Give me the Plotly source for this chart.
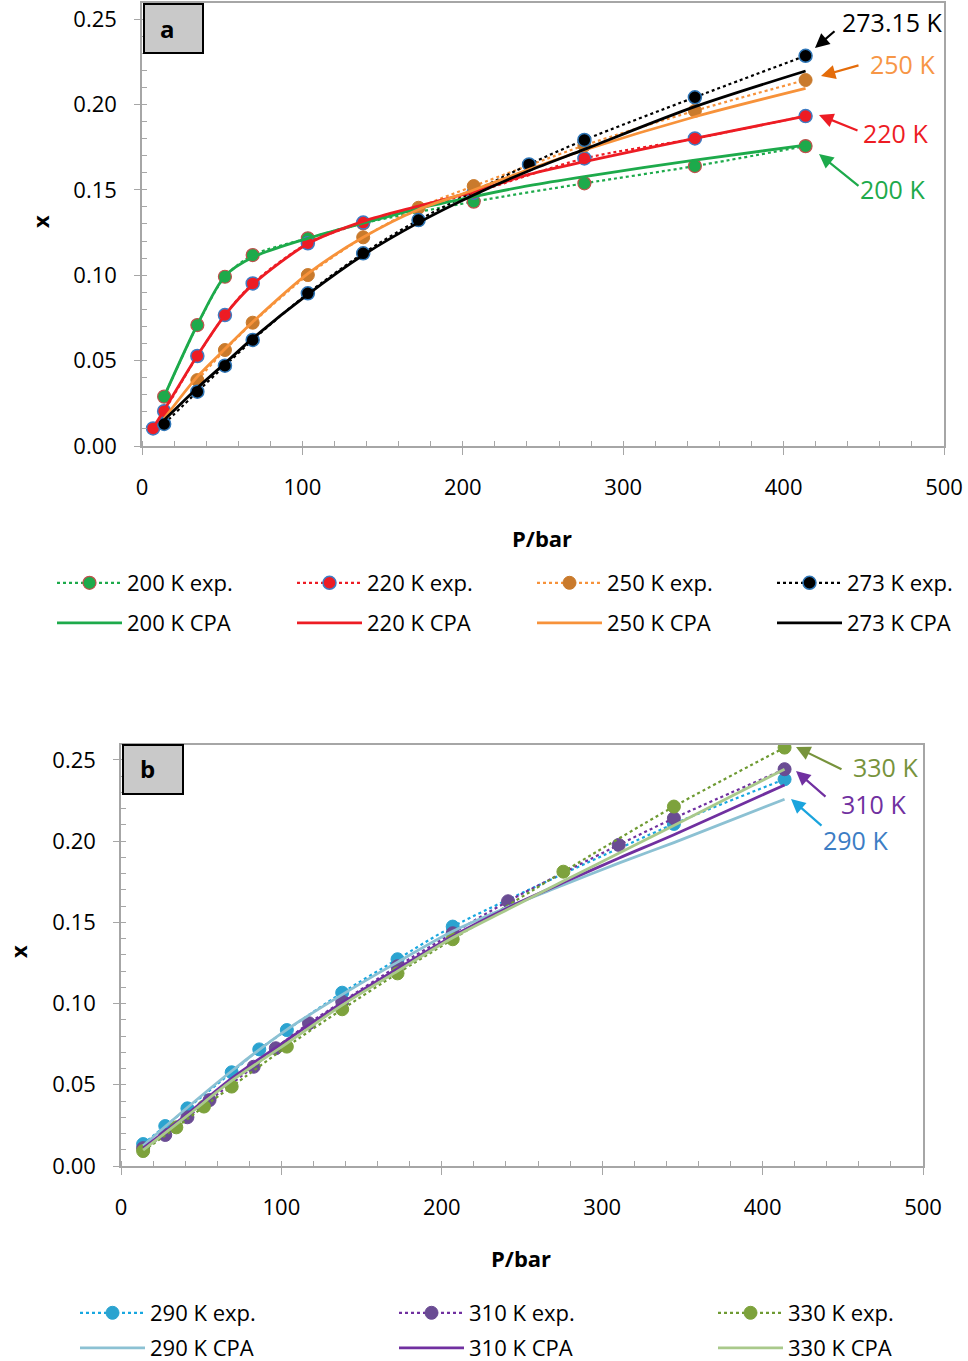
import plotly.graph_objects as go

# ---------------- Panel a data ----------------
P_200_exp = [13.8, 34.5, 51.7, 69.0, 103.4, 137.9, 206.8, 275.8, 344.7, 413.7]
x_200_exp = [0.0289, 0.0708, 0.0991, 0.1118, 0.1216, 0.1304, 0.1431, 0.1538, 0.1639, 0.1756]
P_220_exp = [6.9, 13.8, 34.5, 51.7, 69.0, 103.4, 137.9, 206.8, 275.8, 344.7, 413.7]
x_220_exp = [0.0103, 0.0204, 0.0527, 0.0767, 0.0952, 0.1187, 0.1308, 0.1483, 0.1684, 0.1801, 0.1932]
P_250_exp = [34.5, 51.7, 69.0, 103.4, 137.9, 172.4, 206.8, 275.8, 344.7, 413.7]
x_250_exp = [0.0386, 0.0562, 0.0722, 0.1001, 0.1222, 0.1395, 0.1522, 0.1760, 0.1963, 0.2143]
P_273_exp = [13.8, 34.5, 51.7, 69.0, 103.4, 137.9, 172.4, 241.3, 275.8, 344.7, 413.7]
x_273_exp = [0.0129, 0.0318, 0.0470, 0.0621, 0.0894, 0.1128, 0.1323, 0.1649, 0.1792, 0.2042, 0.2285]

P_200_cpa = [13.8, 34.5, 51.7, 69.0, 103.4, 137.9, 172.4, 206.8, 241.3, 275.8, 344.7, 413.7]
x_200_cpa = [0.0290, 0.0710, 0.0995, 0.1105, 0.1216, 0.1305, 0.1390, 0.1460, 0.1525, 0.1578, 0.1674, 0.1762]
P_220_cpa = [6.9, 13.8, 34.5, 51.7, 69.0, 103.4, 137.9, 172.4, 206.8, 241.3, 275.8, 344.7, 413.7]
x_220_cpa = [0.0105, 0.0210, 0.0530, 0.0767, 0.0945, 0.1184, 0.1315, 0.1405, 0.1490, 0.1590, 0.1665, 0.1801, 0.1932]
P_250_cpa = [13.8, 34.5, 51.7, 69.0, 103.4, 137.9, 172.4, 206.8, 241.3, 275.8, 344.7, 413.7]
x_250_cpa = [0.0160, 0.0406, 0.0568, 0.0726, 0.1009, 0.1222, 0.1385, 0.1499, 0.1620, 0.1733, 0.1928, 0.2094]
P_273_cpa = [13.8, 34.5, 51.7, 69.0, 103.4, 137.9, 172.4, 206.8, 241.3, 275.8, 344.7, 413.7]
x_273_cpa = [0.0152, 0.0340, 0.0484, 0.0630, 0.0888, 0.1118, 0.1308, 0.1470, 0.1612, 0.1737, 0.1987, 0.2196]

# ---------------- Panel b data ----------------
P_290_exp = [13.8, 27.6, 41.4, 69.0, 86.2, 103.4, 137.9, 172.4, 206.8, 344.7, 413.7]
x_290_exp = [0.0135, 0.0246, 0.0355, 0.0577, 0.0718, 0.0837, 0.1067, 0.1273, 0.1474, 0.2106, 0.2381]
P_310_exp = [13.8, 27.6, 41.4, 55.2, 82.7, 96.5, 117.2, 137.9, 172.4, 206.8, 241.3, 310.3, 344.7, 413.7]
x_310_exp = [0.0110, 0.0191, 0.0300, 0.0406, 0.0611, 0.0725, 0.0879, 0.1012, 0.1230, 0.1433, 0.1630, 0.1977, 0.2141, 0.2443]
P_330_exp = [13.8, 34.5, 51.7, 69.0, 103.4, 137.9, 172.4, 206.8, 275.8, 344.7, 413.7]
x_330_exp = [0.0092, 0.0238, 0.0366, 0.0489, 0.0735, 0.0965, 0.1186, 0.1396, 0.1812, 0.2213, 0.2576]

P_b_cpa = [13.8, 41.4, 69.0, 103.4, 137.9, 172.4, 206.8, 241.3, 275.8, 310.3, 344.7, 413.7]
x_290_cpa = [0.0125, 0.0360, 0.0585, 0.0840, 0.1055, 0.1255, 0.1445, 0.1595, 0.1730, 0.1865, 0.1991, 0.2258]
x_310_cpa = [0.0110, 0.0320, 0.0540, 0.0775, 0.1005, 0.1215, 0.1415, 0.1590, 0.1745, 0.1895, 0.2040, 0.2346]
x_330_cpa = [0.0098, 0.0310, 0.0525, 0.0755, 0.0990, 0.1200, 0.1405, 0.1580, 0.1755, 0.1925, 0.2096, 0.2443]

x_ticks = [0, 100, 200, 300, 400, 500]
y_ticks = [0.00, 0.05, 0.10, 0.15, 0.20, 0.25]

W, H = 968, 1361
FONT = "Open Sans, Liberation Sans, sans-serif"


def px(x):
    return x / W


def py(y):
    return 1 - y / H


fig = go.Figure()


def exp_trace(P, X, name, line_color, fill, edge, edge_w, xa, ya, legend):
    fig.add_trace(go.Scatter(
        x=P, y=X, name=name, mode="lines+markers",
        line=dict(color=line_color, width=2.2, dash="dot", shape="spline", smoothing=0.8),
        marker=dict(size=13, color=fill, line=dict(color=edge, width=edge_w)),
        xaxis=xa, yaxis=ya, legend=legend))


def cpa_trace(P, X, name, color, xa, ya, legend):
    fig.add_trace(go.Scatter(
        x=P, y=X, name=name, mode="lines",
        line=dict(color=color, width=2.8, shape="spline", smoothing=0.8),
        xaxis=xa, yaxis=ya, legend=legend))


# panel a
GREEN, RED, ORANGE, BLACK = "#1DAA4B", "#ED1C24", "#F7923A", "#000000"
exp_trace(P_200_exp, x_200_exp, "200 K exp.", GREEN, GREEN, "#C0504D", 1.2, "x", "y", "legend")
exp_trace(P_220_exp, x_220_exp, "220 K exp.", RED, RED, "#3E7CC4", 1.5, "x", "y", "legend")
exp_trace(P_250_exp, x_250_exp, "250 K exp.", ORANGE, "#C97A2C", "#C97A2C", 1, "x", "y", "legend")
exp_trace(P_273_exp, x_273_exp, "273 K exp.", BLACK, BLACK, "#2E75B6", 1.5, "x", "y", "legend")
cpa_trace(P_200_cpa, x_200_cpa, "200 K CPA", GREEN, "x", "y", "legend2")
cpa_trace(P_220_cpa, x_220_cpa, "220 K CPA", RED, "x", "y", "legend2")
cpa_trace(P_250_cpa, x_250_cpa, "250 K CPA", ORANGE, "x", "y", "legend2")
cpa_trace(P_273_cpa, x_273_cpa, "273 K CPA", BLACK, "x", "y", "legend2")

# panel b
exp_trace(P_290_exp, x_290_exp, "290 K exp.", "#17A7E0", "#2BA3D0", "#2BA3D0", 1, "x2", "y2", "legend3")
exp_trace(P_310_exp, x_310_exp, "310 K exp.", "#7030A0", "#6A4C93", "#6A4C93", 1, "x2", "y2", "legend3")
exp_trace(P_330_exp, x_330_exp, "330 K exp.", "#6E9A32", "#7DA23C", "#7DA23C", 1, "x2", "y2", "legend3")
cpa_trace(P_b_cpa, x_290_cpa, "290 K CPA", "#8CC1D3", "x2", "y2", "legend4")
cpa_trace(P_b_cpa, x_310_cpa, "310 K CPA", "#7030A0", "x2", "y2", "legend4")
cpa_trace(P_b_cpa, x_330_cpa, "330 K CPA", "#A9C98B", "x2", "y2", "legend4")

AXIS_GREY = "#A6A6A6"
tickfont = dict(family=FONT, size=22, color="#000000")


def xaxis_cfg(domain, anchor):
    return dict(domain=domain, anchor=anchor, range=[0, 500], tickvals=x_ticks,
                showline=True, linecolor=AXIS_GREY, linewidth=1.5, mirror=True,
                ticks="outside", ticklen=7, tickcolor=AXIS_GREY, tickwidth=1.2,
                minor=dict(ticks="inside", dtick=20, ticklen=5, tickcolor=AXIS_GREY, tickwidth=1.2),
                showgrid=False, zeroline=False, tickfont=tickfont, ticklabelstandoff=14)


def yaxis_cfg(domain, anchor, top):
    return dict(domain=domain, anchor=anchor, range=[0, top], tickvals=y_ticks, tickformat=".2f",
                showline=True, linecolor=AXIS_GREY, linewidth=1.5, mirror=True,
                ticks="outside", ticklen=6, tickcolor=AXIS_GREY, tickwidth=1.2,
                minor=dict(ticks="inside", dtick=0.01, ticklen=5, tickcolor=AXIS_GREY, tickwidth=1.2),
                showgrid=False, zeroline=False, tickfont=tickfont, ticklabelstandoff=13)


legfont = dict(family=FONT, size=22, color="#000000")


def legend_cfg(x, y, ew):
    return dict(orientation="h", x=x, y=y, xanchor="left", yanchor="middle",
                font=legfont, itemwidth=65, entrywidth=ew, entrywidthmode="pixels",
                bgcolor="rgba(0,0,0,0)", borderwidth=0, itemclick=False, tracegroupgap=0)


annotations = []


def arrow(hx, hy, tx, ty, color):
    annotations.append(dict(x=px(hx), y=py(hy), xref="paper", yref="paper", text="",
                            showarrow=True, ax=tx - hx, ay=ty - hy, axref="pixel", ayref="pixel",
                            arrowhead=2, arrowsize=1.3, arrowwidth=2.2, arrowcolor=color,
                            standoff=0, startstandoff=0))


def label(x, y, text, color, size=25, bold=False, angle=0, xanchor="left"):
    t = "<b>" + text + "</b>" if bold else text
    annotations.append(dict(x=px(x), y=py(y), xref="paper", yref="paper", text=t,
                            showarrow=False, xanchor=xanchor, yanchor="middle", textangle=angle,
                            font=dict(family=FONT, size=size, color=color)))


# panel a labels
arrow(815, 48, 836, 30, "#000000")
label(840, 22, "273.15 K", "#000000")
arrow(821, 76, 860, 65, "#E46C0A")
label(868, 64, "250 K", "#F79646")
arrow(819, 115, 859, 131, "#ED1C24")
label(861, 133, "220 K", "#ED1C24")
arrow(819, 154, 860, 187, "#1DAA4B")
label(858, 189, "200 K", "#1DAA4B")

# panel b labels
arrow(796, 747, 843, 770, "#77933C")
label(851, 767, "330 K", "#77933C")
arrow(796, 771, 827, 798, "#7030A0")
label(839, 804, "310 K", "#7030A0")
arrow(791, 799, 823, 827, "#1AA4DD")
label(821, 840, "290 K", "#3C7DC4")

# axis titles
label(542, 538, "P/bar", "#000000", size=22, bold=True, xanchor="center")
label(521, 1258, "P/bar", "#000000", size=22, bold=True, xanchor="center")
label(40, 222, "x", "#000000", size=22, bold=True, angle=-90, xanchor="center")
label(18, 952, "x", "#000000", size=22, bold=True, angle=-90, xanchor="center")

# panel letters
label(167, 28, "a", "#000000", size=24, bold=True, xanchor="center")
label(147, 769, "b", "#000000", size=24, bold=True, xanchor="center")

shapes = [
    dict(type="rect", xref="paper", yref="paper", x0=px(144), x1=px(203), y0=py(53), y1=py(4),
         fillcolor="#C9C9C9", line=dict(color="#000000", width=2), layer="above"),
    dict(type="rect", xref="paper", yref="paper", x0=px(123), x1=px(183), y0=py(794), y1=py(745),
         fillcolor="#C9C9C9", line=dict(color="#000000", width=2), layer="above"),
]

fig.update_layout(
    width=W, height=H, margin=dict(l=0, r=0, t=0, b=0, autoexpand=False),
    paper_bgcolor="#FFFFFF", plot_bgcolor="#FFFFFF",
    font=dict(family=FONT, color="#000000"),
    xaxis=xaxis_cfg([px(142), px(944)], "y"),
    yaxis=yaxis_cfg([py(446), py(3)], "x", 0.2594),
    xaxis2=xaxis_cfg([px(121), px(923)], "y2"),
    yaxis2=yaxis_cfg([py(1166), py(745)], "x2", 0.2592),
    legend=legend_cfg(px(52), py(583), 160),
    legend2=legend_cfg(px(52), py(623), 160),
    legend3=legend_cfg(px(75), py(1313), 239),
    legend4=legend_cfg(px(75), py(1348), 239),
    annotations=annotations, shapes=shapes,
    showlegend=True,
)

fig.write_html("out.html")
